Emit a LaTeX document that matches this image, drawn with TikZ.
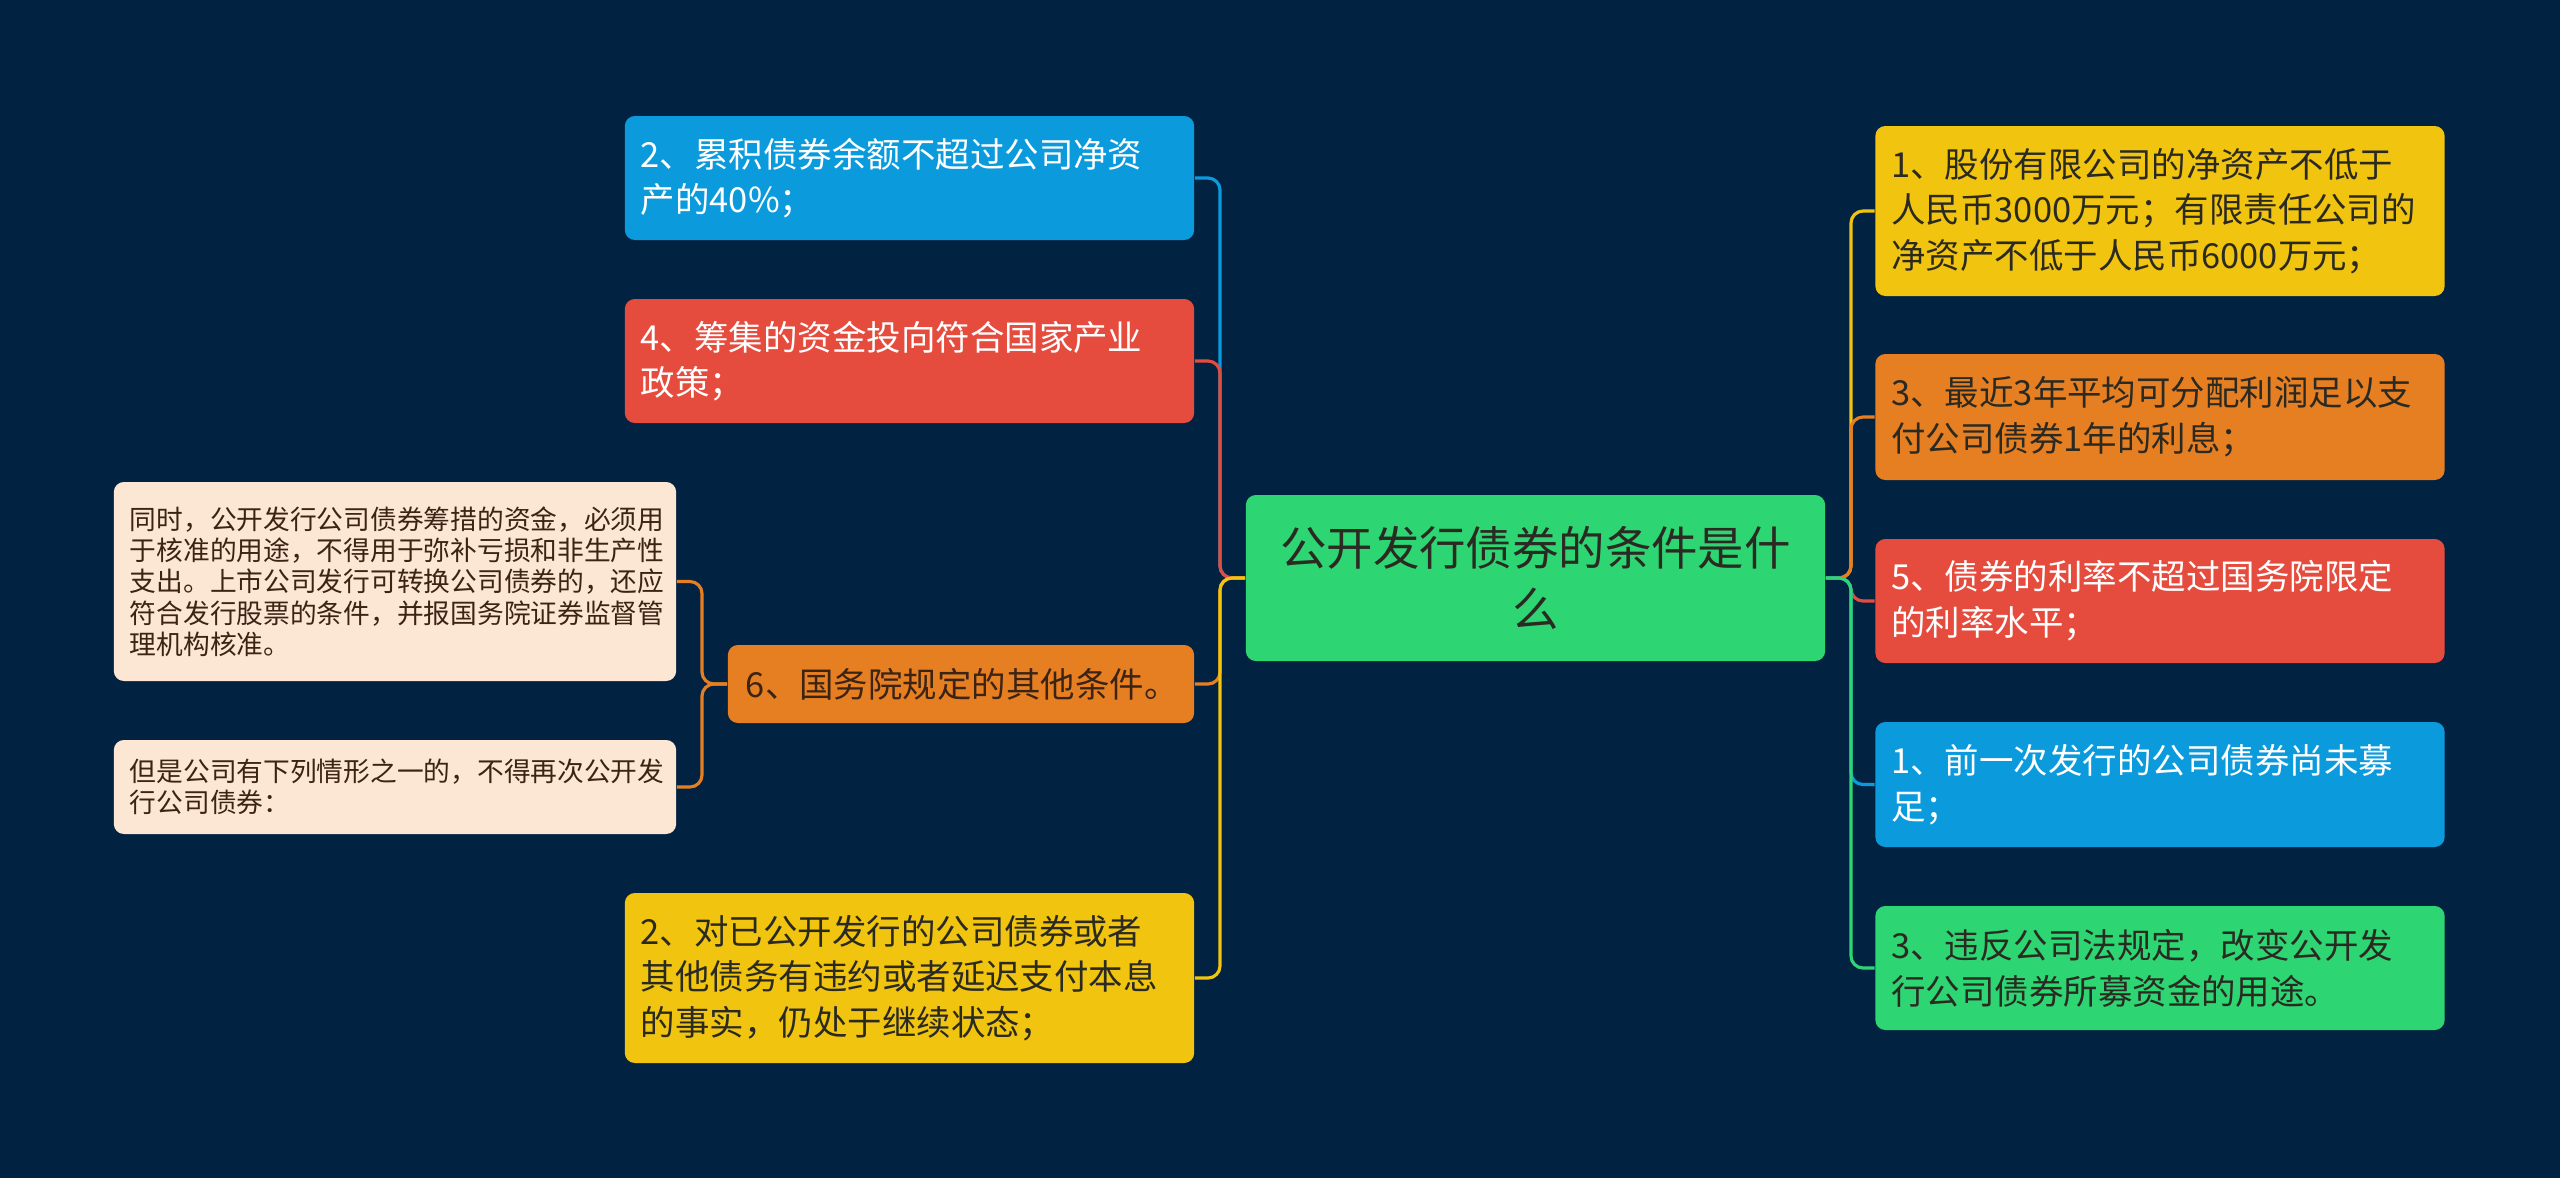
\documentclass[tikz,border=0pt]{standalone}
\usepackage{fontspec}
\setmainfont{Noto Sans CJK SC}
\definecolor{bgnavy}{HTML}{022242}
\definecolor{mapblue}{HTML}{0B9BDD}
\definecolor{mapred}{HTML}{E64C3E}
\definecolor{maporange}{HTML}{E67E22}
\definecolor{mapyellow}{HTML}{F1C40F}
\definecolor{mapgreen}{HTML}{2ED573}
\definecolor{peach}{HTML}{FCE6D4}
\definecolor{inkdark}{HTML}{2A2A22}
\definecolor{inkbrown}{HTML}{3B2414}

\begin{document}
\begin{tikzpicture}[x=0.01cm,y=-0.01cm,
  box/.style={rectangle, rounded corners=0.1cm, inner xsep=0.16cm, inner ysep=0pt,
    align=left, text width=5.37cm, font=\fontsize{9.8}{13}\selectfont},
  note/.style={box, text width=5.30cm, fill=peach, text=inkbrown,
    font=\fontsize{7.6}{8.9}\selectfont},
  conn/.style={draw=#1, line width=0.9pt, rounded corners=0.12cm}]
\useasboundingbox (0,0) rectangle (2560,1178);
\fill[bgnavy] (0,0) rectangle (2560,1178);

\node[box, align=center, text width=5.47cm, fill=mapgreen, text=inkdark, minimum height=166*0.01cm,
  font=\fontsize{13.2}{17.6}\selectfont] (root) at (1535.5,578) {公开发行债券的条件是什\\么};

% left side
\node[box, fill=mapblue, text=white, minimum height=124*0.01cm] (accum) at (909.5,178)
  {2、累积债券余额不超过公司净资\\产的40\%；};
\node[box, fill=mapred, text=white, minimum height=124*0.01cm] (invest) at (909.5,361)
  {4、筹集的资金投向符合国家产业\\政策；};
\node[box, text width=4.30cm, inner xsep=0.18cm, fill=maporange, text=inkbrown, minimum height=78*0.01cm] (other) at (961,684)
  {6、国务院规定的其他条件。};
\node[box, fill=mapyellow, text=inkdark, minimum height=170*0.01cm] (default) at (909.5,978)
  {2、对已公开发行的公司债券或者\\其他债务有违约或者延迟支付本息\\的事实，仍处于继续状态；};
\node[note, minimum height=199*0.01cm] (usage) at (395,581.5)
  {同时，公开发行公司债券筹措的资金，必须用\\于核准的用途，不得用于弥补亏损和非生产性\\支出。上市公司发行可转换公司债券的，还应\\符合发行股票的条件，并报国务院证券监督管\\理机构核准。};
\node[note, minimum height=94*0.01cm] (refuse) at (395,787)
  {但是公司有下列情形之一的，不得再次公开发\\行公司债券：};

% right side
\node[box, fill=mapyellow, text=inkdark, minimum height=170*0.01cm] (netasset) at (2160,211)
  {1、股份有限公司的净资产不低于\\人民币3000万元；有限责任公司的\\净资产不低于人民币6000万元；};
\node[box, fill=maporange, text=inkdark, minimum height=126*0.01cm] (profit) at (2160,417)
  {3、最近3年平均可分配利润足以支\\付公司债券1年的利息；};
\node[box, fill=mapred, text=white, minimum height=124*0.01cm] (rate) at (2160,601)
  {5、债券的利率不超过国务院限定\\的利率水平；};
\node[box, fill=mapblue, text=white, minimum height=125*0.01cm] (unraised) at (2160,784.5)
  {1、前一次发行的公司债券尚未募\\足；};
\node[box, fill=mapgreen, text=inkdark, minimum height=124*0.01cm] (misuse) at (2160,968)
  {3、违反公司法规定，改变公开发\\行公司债券所募资金的用途。};

\coordinate (ljoin) at (1220,578);
\coordinate (rjoin) at (1851,578);
\coordinate (ojoin) at (702,684);

\draw[conn=mapblue] (root.west) -- (ljoin) |- (accum.east);
\draw[conn=mapred] (root.west) -- (ljoin) |- (invest.east);
\draw[conn=maporange] (root.west) -- (ljoin) |- (other.east);
\draw[conn=mapyellow] (root.west) -- (ljoin) |- (default.east);
\draw[conn=maporange] (other.west) -- (ojoin) |- (usage.east);
\draw[conn=maporange] (other.west) -- (ojoin) |- (refuse.east);

\draw[conn=mapyellow] (root.east) -- (rjoin) |- (netasset.west);
\draw[conn=maporange] (root.east) -- (rjoin) |- (profit.west);
\draw[conn=mapred] (root.east) -- (rjoin) |- (rate.west);
\draw[conn=mapblue] (root.east) -- (rjoin) |- (unraised.west);
\draw[conn=mapgreen] (root.east) -- (rjoin) |- (misuse.west);
\end{tikzpicture}
\end{document}
